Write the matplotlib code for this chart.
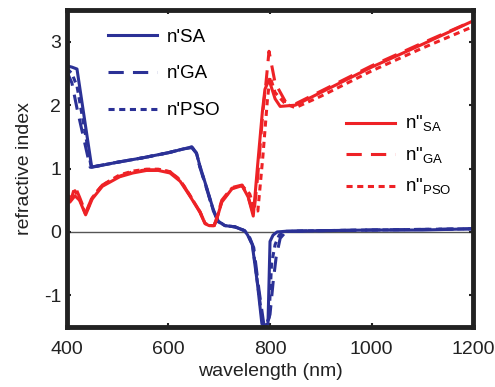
import numpy as np
import matplotlib
matplotlib.use("Agg")
import matplotlib.pyplot as plt

plt.rcParams["font.family"] = ["Liberation Sans", "DejaVu Sans"]
plt.rcParams["axes.unicode_minus"] = False

# real part n' (blue)
wl_re_sa = [400, 410, 420, 449, 500, 550, 600, 630, 646, 655, 662, 676, 688, 698,
            711, 731, 750, 756, 765, 775, 784, 790, 796, 800, 806, 814, 830, 900,
            1000, 1100, 1200]
re_sa = [2.62, 2.6, 2.57, 1.02, 1.1, 1.17, 1.25, 1.31, 1.34, 1.25, 1.04, 0.68, 0.36,
         0.17, 0.1, 0.08, 0.02, -0.05, -0.2, -0.8, -1.45, -1.47, -1.45, -0.15, -0.05,
         0.0, 0.01, 0.02, 0.03, 0.03, 0.05]
wl_re_ga = [400, 410, 420, 446, 500, 550, 600, 630, 646, 655, 662, 676, 688, 698,
            711, 731, 750, 758, 768, 778, 788, 794, 800, 806, 812, 820, 832, 900,
            1000, 1100, 1200]
re_ga = [2.53, 2.35, 1.95, 1.02, 1.1, 1.17, 1.25, 1.31, 1.33, 1.24, 1.02, 0.66, 0.34,
         0.16, 0.1, 0.08, 0.02, -0.05, -0.25, -0.9, -1.47, -1.47, -1.3, -0.8, -0.4,
         -0.1, 0.01, 0.02, 0.03, 0.04, 0.05]
wl_re_pso = [400, 410, 420, 448, 500, 550, 600, 630, 646, 655, 662, 676, 688, 698,
             711, 731, 750, 757, 766, 776, 786, 792, 798, 803, 810, 818, 832, 900,
             1000, 1100, 1200]
re_pso = [2.58, 2.5, 2.3, 1.02, 1.1, 1.17, 1.25, 1.31, 1.34, 1.25, 1.03, 0.67, 0.35,
          0.17, 0.1, 0.08, 0.02, -0.05, -0.22, -0.85, -1.46, -1.47, -1.35, -0.5, -0.2,
          -0.05, 0.01, 0.02, 0.03, 0.04, 0.05]

# imaginary part n'' (red)
wl_im_sa = [400, 406, 416, 425, 437, 450, 470, 504, 530, 557, 580, 603, 623, 642, 662,
            672, 680, 690, 695, 705, 725, 745, 757, 767, 775, 785, 790, 798, 810, 820,
            850, 900, 1000, 1100, 1200]
im_sa = [0.6, 0.47, 0.57, 0.5, 0.27, 0.52, 0.72, 0.87, 0.93, 0.97, 0.97, 0.93, 0.8,
         0.57, 0.31, 0.13, 0.1, 0.1, 0.2, 0.47, 0.68, 0.73, 0.55, 0.25, 1.0, 1.9, 2.25,
         2.4, 2.1, 1.98, 2.0, 2.2, 2.6, 2.96, 3.33]
wl_im_ga = [400, 408, 416, 425, 437, 450, 470, 504, 530, 557, 580, 603, 623, 642, 662,
            672, 680, 690, 695, 705, 725, 745, 757, 768, 776, 786, 792, 798, 810, 830,
            850, 900, 1000, 1100, 1200]
im_ga = [0.55, 0.5, 0.72, 0.55, 0.3, 0.55, 0.74, 0.88, 0.95, 0.98, 0.98, 0.95, 0.82,
         0.58, 0.32, 0.14, 0.1, 0.1, 0.22, 0.5, 0.7, 0.74, 0.55, 0.27, 0.9, 1.9, 2.35,
         2.85, 2.35, 2.06, 2.02, 2.22, 2.62, 2.98, 3.33]
wl_im_pso = [400, 408, 416, 425, 437, 450, 470, 504, 530, 557, 580, 603, 623, 642, 662,
             672, 680, 690, 695, 705, 725, 745, 760, 770, 776, 786, 795, 800, 810, 830,
             850, 900, 1000, 1100, 1200]
im_pso = [0.5, 0.6, 0.65, 0.52, 0.28, 0.54, 0.74, 0.9, 0.96, 0.99, 0.99, 0.95, 0.82,
          0.58, 0.32, 0.14, 0.1, 0.1, 0.2, 0.48, 0.69, 0.73, 0.6, 0.35, 0.33, 1.2, 2.1,
          2.45, 2.2, 2.02, 1.96, 2.14, 2.54, 2.9, 3.24]

blue = "#2b3196"
red = "#ee2226"
ink = "#222222"

fig = plt.figure(figsize=(4.95, 3.87), dpi=100)
ax = fig.add_axes([0.135, 0.155, 0.821, 0.819])

ax.axhline(0, color="#555555", lw=1.0, zorder=1)

l1, = ax.plot(wl_re_sa, re_sa, color=blue, lw=2.2, ls="-")
l2, = ax.plot(wl_re_ga, re_ga, color=blue, lw=2.2, ls=(0, (5, 3)))
l3, = ax.plot(wl_re_pso, re_pso, color=blue, lw=2.2, ls=(0, (2, 1.5)))
r1, = ax.plot(wl_im_sa, im_sa, color=red, lw=2.2, ls="-")
r2, = ax.plot(wl_im_ga, im_ga, color=red, lw=2.2, ls=(0, (5, 3)))
r3, = ax.plot(wl_im_pso, im_pso, color=red, lw=2.2, ls=(0, (2, 1.5)))

ax.set_xlim(400, 1200)
ax.set_ylim(-1.5, 3.5)
ax.set_xticks([400, 600, 800, 1000, 1200])
ax.set_yticks([-1, 0, 1, 2, 3])
ax.tick_params(direction="in", length=3, width=1.5, labelsize=14,
               top=True, right=True, colors=ink, labelcolor=ink)
ax.tick_params(axis="x", pad=10)
ax.tick_params(axis="y", pad=4)
for s in ax.spines.values():
    s.set_linewidth(3.5)
    s.set_color(ink)

ax.set_xlabel("wavelength (nm)", fontsize=14, color=ink, labelpad=4)
ax.set_ylabel("refractive index", fontsize=14, color=ink, labelpad=8)

leg1 = ax.legend([l1, l2, l3], ["n'SA", "n'GA", "n'PSO"], loc="upper left",
                 bbox_to_anchor=(0.06, 0.995), frameon=False, fontsize=13.5,
                 handlelength=2.6, labelspacing=1.05, handletextpad=0.55)
ax.add_artist(leg1)
ax.legend([r1, r2, r3],
          ['n"$_{\\mathregular{SA}}$', 'n"$_{\\mathregular{GA}}$',
           'n"$_{\\mathregular{PSO}}$'],
          loc="upper left", bbox_to_anchor=(0.645, 0.725), frameon=False,
          fontsize=13.5, handlelength=2.6, labelspacing=0.6, handletextpad=0.55)

fig.savefig("out.png", dpi=100)
